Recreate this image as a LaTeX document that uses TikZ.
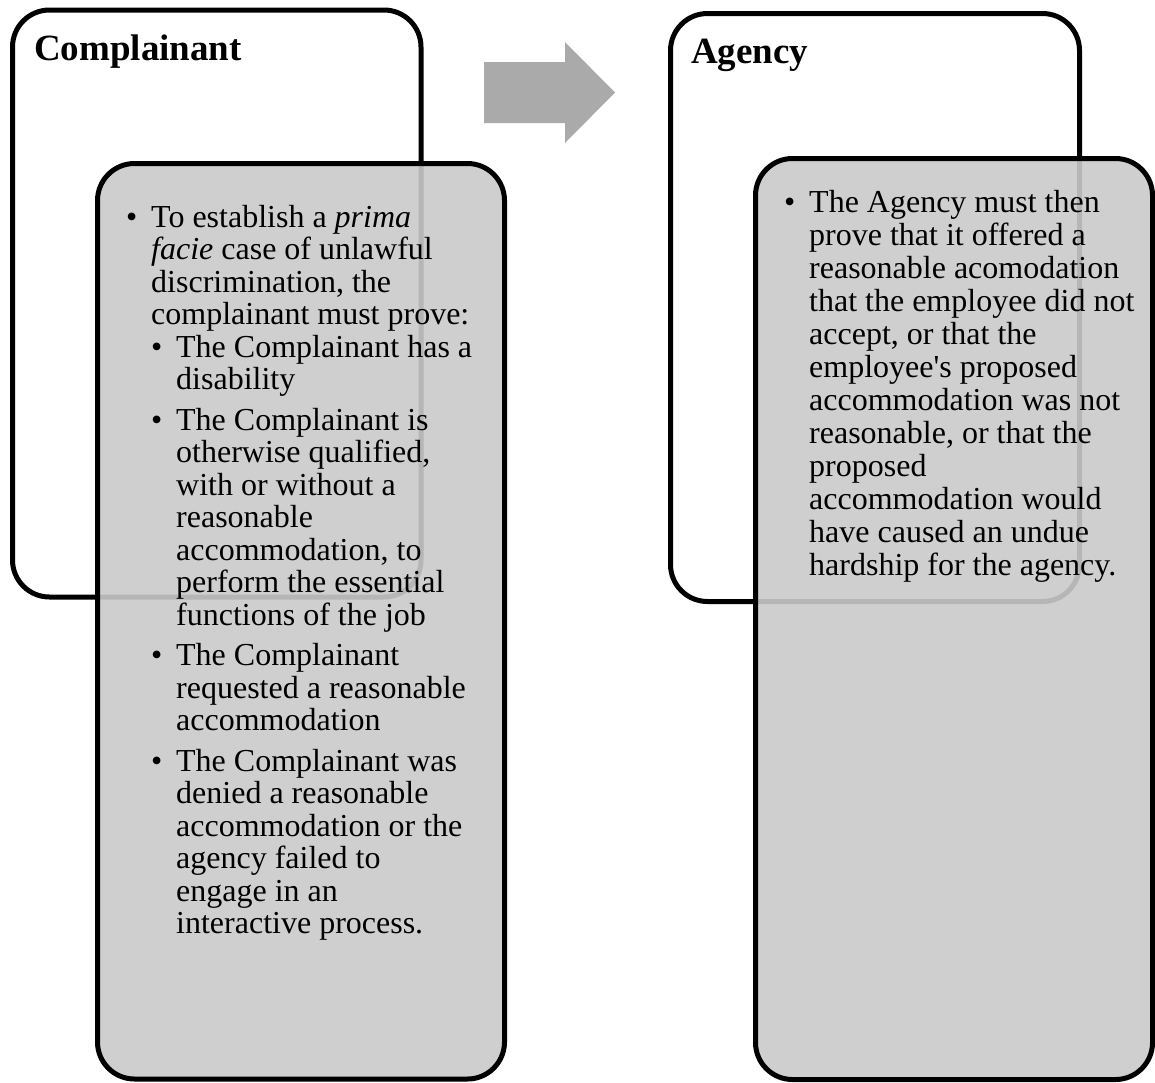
\documentclass[tikz,border=0pt]{standalone}
\usepackage{fontspec}
\setmainfont{Liberation Serif}
\usepackage{array}
\definecolor{boxgray}{RGB}{202,202,202}
\definecolor{arrowgray}{RGB}{170,170,170}
\begin{document}
\begin{tikzpicture}[x=1pt,y=-1pt,
outerbox/.style={draw,line width=5pt,rounded corners=37pt,fill=white,inner sep=0pt,outer sep=0pt,anchor=north west},
innerbox/.style={draw,line width=5pt,rounded corners=37pt,fill=boxgray,fill opacity=0.9,draw opacity=1,inner sep=0pt,outer sep=0pt,anchor=north west},
boxtitle/.style={font=\fontsize{37}{40}\selectfont\bfseries,inner sep=0pt,anchor=base west},
boxtext/.style={font=\fontsize{32}{33}\selectfont,inner sep=0pt,anchor=base west}]
\useasboundingbox (0,0) rectangle (1155,1082);
\node[outerbox,minimum width=408.5pt,minimum height=587pt] (leftouter) at (12.5,10) {};
\node[innerbox,minimum width=407pt,minimum height=915.5pt] (leftinner) at (97.5,163.5) {};
\node[outerbox,minimum width=409pt,minimum height=588pt] (rightouter) at (670.5,13.5) {};
\node[innerbox,minimum width=397pt,minimum height=921pt] (rightinner) at (755.5,158.5) {};
\fill[arrowgray] (484,62) -- (565,62) -- (565,42) -- (615,92.5) -- (565,143) -- (565,123) -- (484,123) -- cycle;
\node[boxtitle] (complainant) at (34,60) {Complainant};
\node[boxtitle] (agency) at (691,63) {Agency};
\node[boxtext,font=\fontsize{32}{32.5}\selectfont] (leftlist) at (126,227) {\begin{tabular}[t]{@{}p{25pt}@{}p{25pt}@{}l@{}}
\textbullet & \multicolumn{2}{@{}l@{}}{To establish a \textit{prima}}\\
 & \multicolumn{2}{@{}l@{}}{\textit{facie} case of unlawful}\\
 & \multicolumn{2}{@{}l@{}}{discrimination, the}\\
 & \multicolumn{2}{@{}l@{}}{complainant must prove:}\\
 & \textbullet & The Complainant has a\\
 & & disability\\[8pt]
 & \textbullet & The Complainant is\\
 & & otherwise qualified,\\
 & & with or without a\\
 & & reasonable\\
 & & accommodation, to\\
 & & perform the essential\\
 & & functions of the job\\[8pt]
 & \textbullet & The Complainant\\
 & & requested a reasonable\\
 & & accommodation\\[8pt]
 & \textbullet & The Complainant was\\
 & & denied a reasonable\\
 & & accommodation or the\\
 & & agency failed to\\
 & & engage in an\\
 & & interactive process.
\end{tabular}};
\node[boxtext] (rightlist) at (784,212) {\begin{tabular}[t]{@{}p{25pt}@{}l@{}}
\textbullet & The Agency must then\\
 & prove that it offered a\\
 & reasonable acomodation\\
 & that the employee did not\\
 & accept, or that the\\
 & employee\textquotesingle s proposed\\
 & accommodation was not\\
 & reasonable, or that the\\
 & proposed\\
 & accommodation would\\
 & have caused an undue\\
 & hardship for the agency.
\end{tabular}};
\end{tikzpicture}
\end{document}
